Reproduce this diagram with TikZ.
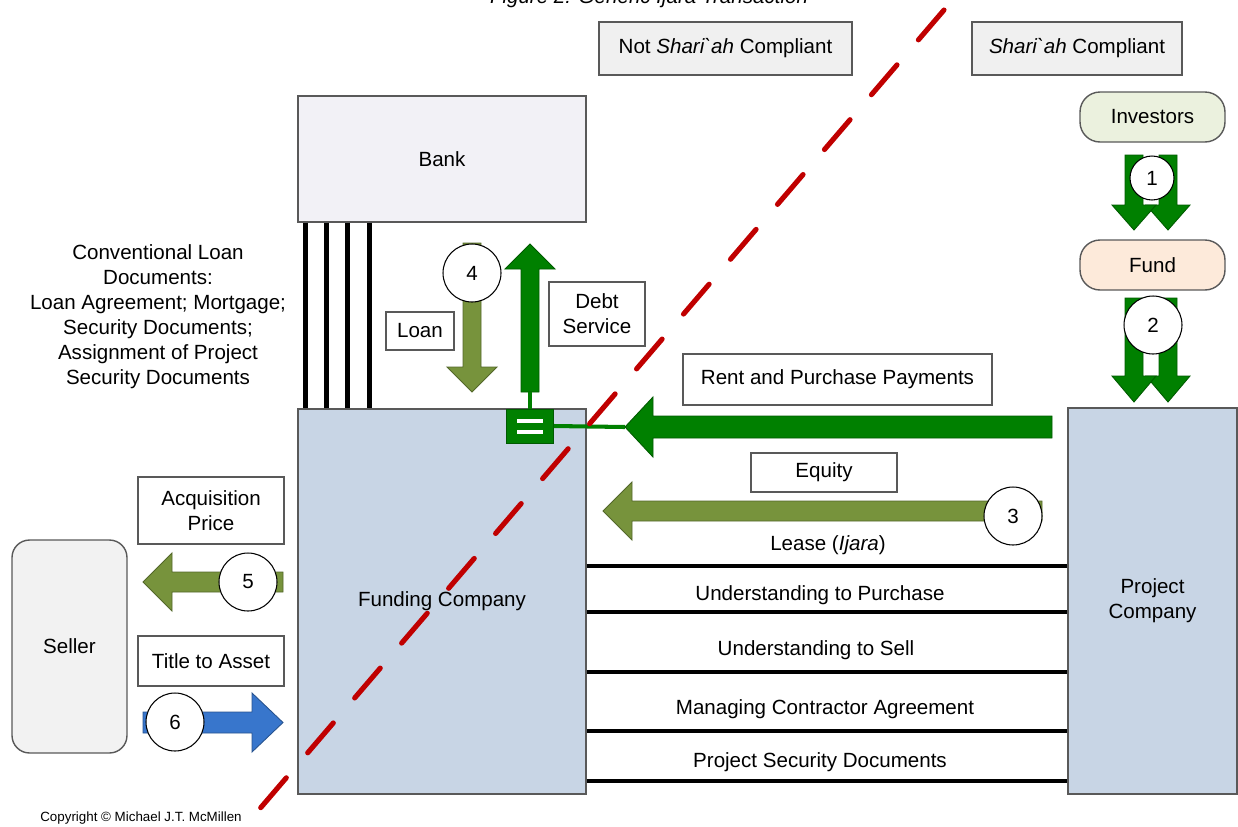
\documentclass[tikz,border=0pt]{standalone}
\usepackage{fontspec}
\setmainfont{Liberation Sans}
\usetikzlibrary{positioning,calc}
\definecolor{graybox}{RGB}{240,240,240}
\definecolor{bankcolor}{RGB}{242,241,246}
\definecolor{companycolor}{RGB}{200,213,229}
\definecolor{investcolor}{RGB}{235,241,222}
\definecolor{fundcolor}{RGB}{253,234,218}
\definecolor{sellercolor}{RGB}{242,242,242}
\definecolor{darkgreen}{RGB}{0,128,0}
\definecolor{olivecolor}{RGB}{119,147,60}
\definecolor{titleblue}{RGB}{56,118,204}
\definecolor{dividercolor}{RGB}{192,0,0}
\definecolor{bordercolor}{RGB}{89,89,89}
\tikzset{
    headbox/.style={
        rectangle,
        draw=bordercolor,
        fill=graybox,
        line width=0.8pt,
        minimum height=1.06cm
    },
    labelbox/.style={rectangle, draw=bordercolor, fill=white, line width=0.8pt, align=center},
    partybox/.style={rectangle, draw=bordercolor, line width=0.8pt, align=center},
    companybox/.style={partybox, fill=companycolor},
    roundbox/.style={partybox, rounded corners=0.4cm, minimum width=2.9cm, minimum height=1cm},
    numcircle/.style={circle, draw=black, fill=white, line width=0.6pt, minimum size=1.16cm, inner sep=0pt},
    greenarrow/.style={fill=darkgreen, draw=darkgreen!70!black, line width=0.5pt},
    olivearrow/.style={fill=olivecolor, draw=olivecolor!70!black, line width=0.5pt},
    bluearrow/.style={fill=titleblue, draw=titleblue!70!black, line width=0.5pt},
    greenlink/.style={draw=darkgreen, line width=2.3pt},
    docline/.style={draw=black, line width=2.8pt},
    divider/.style={draw=dividercolor, line width=2.9pt, line cap=round, dash pattern=on 22.4pt off 18.7pt}
}

\begin{document}
\begin{tikzpicture}[x=0.02cm, y=-0.02cm, font=\fontsize{11.7}{14.2}\selectfont]
    \useasboundingbox (0,0) rectangle (1238,826);

    % Title, cut at the top edge
    \node[font=\fontsize{11.7}{14.2}\selectfont\itshape, anchor=base] (figtitle) at (649,3)
          {Figure 2: Generic Ijara Transaction};

    % Compliance headings
    \node[headbox, minimum width=5.06cm] (notsc) at (725.5,48.5)
          {Not \textit{Shari\textasciigrave ah} Compliant};
    \node[headbox, minimum width=4.2cm] (sc) at (1077,48.5)
          {\textit{Shari\textasciigrave ah} Compliant};

    % Parties
    \node[partybox, fill=bankcolor, minimum width=5.76cm, minimum height=2.52cm] (bank) at (442,159) {Bank};
    \node[companybox, minimum width=5.76cm, minimum height=7.7cm] (funding) at (442,601.5) {Funding Company};
    \node[companybox, minimum width=3.38cm, minimum height=7.72cm] (project) at (1152.5,601) {Project\\Company};
    \node[roundbox, fill=investcolor] (investors) at (1152.5,117) {Investors};
    \node[roundbox, fill=fundcolor] (fund) at (1152.5,265) {Fund};
    \node[partybox, fill=sellercolor, rounded corners=0.35cm, minimum width=2.3cm, minimum height=4.26cm] (seller) at (69.5,646.5) {Seller};

    % Loan documents
    \foreach \dx in {0.16,0.58,1.0,1.44}
        \draw[docline] ([xshift=\dx cm]bank.south west) -- ([xshift=\dx cm]funding.north west);
    \node[align=center] (loandocs) at (158,316.5)
          {Conventional Loan\\Documents:\\Loan Agreement; Mortgage;\\Security Documents;\\Assignment of Project\\Security Documents};

    % Project documents
    \foreach \y in {566,612,672,731,781}
        \draw[docline] (funding.east |- 0,\y) -- (project.west |- 0,\y);
    \node (lease) at (828,545) {Lease (\textit{Ijara})};
    \node (purchase) at (820,595) {Understanding to Purchase};
    \node (sell) at (816,650) {Understanding to Sell};
    \node (managing) at (825,709) {Managing Contractor Agreement};
    \node (security) at (820,762) {Project Security Documents};

    % 1 and 2: investors -> fund -> project company
    \draw[greenarrow] (1159,155) -- (1177,155) -- (1177,205) -- (1190,205) -- (1168,230) -- (1146,205) -- (1159,205) -- cycle;
    \draw[greenarrow] (1125,155) -- (1143,155) -- (1143,205) -- (1156,205) -- (1134,230) -- (1112,205) -- (1125,205) -- cycle;
    \node[numcircle, minimum size=0.88cm] (n1) at (1152,178) {1};
    \draw[greenarrow] (1159,298) -- (1177,298) -- (1177,376) -- (1190,376) -- (1168,402) -- (1146,376) -- (1159,376) -- cycle;
    \draw[greenarrow] (1125,298) -- (1143,298) -- (1143,376) -- (1156,376) -- (1134,402) -- (1112,376) -- (1125,376) -- cycle;
    \node[numcircle] (n2) at (1153,325) {2};

    % 3: equity
    \draw[olivearrow] (1042,501) -- (632,501) -- (632,482) -- (603,511) -- (632,540) -- (632,521) -- (1042,521) -- cycle;
    \node[numcircle] (n3) at (1013,516) {3};
    \node[labelbox, minimum width=2.92cm, minimum height=0.78cm] (equity) at (824,472.5) {Equity};

    % 4: loan and debt service
    \draw[olivearrow] (463,243) -- (481,243) -- (481,367) -- (497,367) -- (472,392) -- (447,367) -- (463,367) -- cycle;
    \node[numcircle] (n4) at (472,273) {4};
    \node[labelbox, minimum width=1.36cm, minimum height=0.76cm] (loan) at (420,331) {Loan};
    \draw[greenarrow] (521,392) -- (539,392) -- (539,269) -- (555,269) -- (530,244) -- (505,269) -- (521,269) -- cycle;
    \node[labelbox, minimum width=1.92cm, minimum height=1.28cm] (debt) at (597,314) {Debt\\Service};

    % Rent and purchase payments
    \coordinate (renttip) at (625,427);
    \node[rectangle, fill=darkgreen, draw=darkgreen!70!black, minimum width=0.94cm, minimum height=0.68cm] (eq) at (530,426) {};
    \draw[white, line width=0.08cm] ([xshift=-0.26cm, yshift=0.11cm]eq.center) -- ([xshift=0.26cm, yshift=0.11cm]eq.center);
    \draw[white, line width=0.08cm] ([xshift=-0.26cm, yshift=-0.11cm]eq.center) -- ([xshift=0.26cm, yshift=-0.11cm]eq.center);
    \draw[greenlink] (eq.north) -- (530,392);
    \draw[greenlink] (eq.east) -- (renttip);
    \draw[greenarrow] (1052,416) -- (653,416) -- (653,397) -- (renttip) -- (653,457) -- (653,438) -- (1052,438) -- cycle;
    \node[labelbox, minimum width=6.18cm, minimum height=1.02cm] (rent) at (837.5,379.5) {Rent and Purchase Payments};

    % 5 and 6: seller
    \node[labelbox, minimum width=2.92cm, minimum height=1.34cm] (acq) at (211,510.5) {Acquisition\\Price};
    \draw[olivearrow] (283,572) -- (172,572) -- (172,553) -- (143,582) -- (172,611) -- (172,592) -- (283,592) -- cycle;
    \node[numcircle] (n5) at (248,582) {5};
    \node[labelbox, minimum width=2.92cm, minimum height=1cm] (titleasset) at (211,661) {Title to Asset};
    \draw[bluearrow] (143,712) -- (252,712) -- (252,693) -- (283,722.5) -- (252,752) -- (252,733) -- (143,733) -- cycle;
    \node[numcircle] (n6) at (175,722) {6};

    % Compliance divide
    \coordinate (divtop) at (944,10);
    \coordinate (divbottom) at (257,812);
    \draw[divider] (divtop) -- (divbottom);

    \node[font=\fontsize{7.6}{9}\selectfont] (copyright) at (141,818) {Copyright \textcopyright{} Michael J.T. McMillen};
\end{tikzpicture}
\end{document}
